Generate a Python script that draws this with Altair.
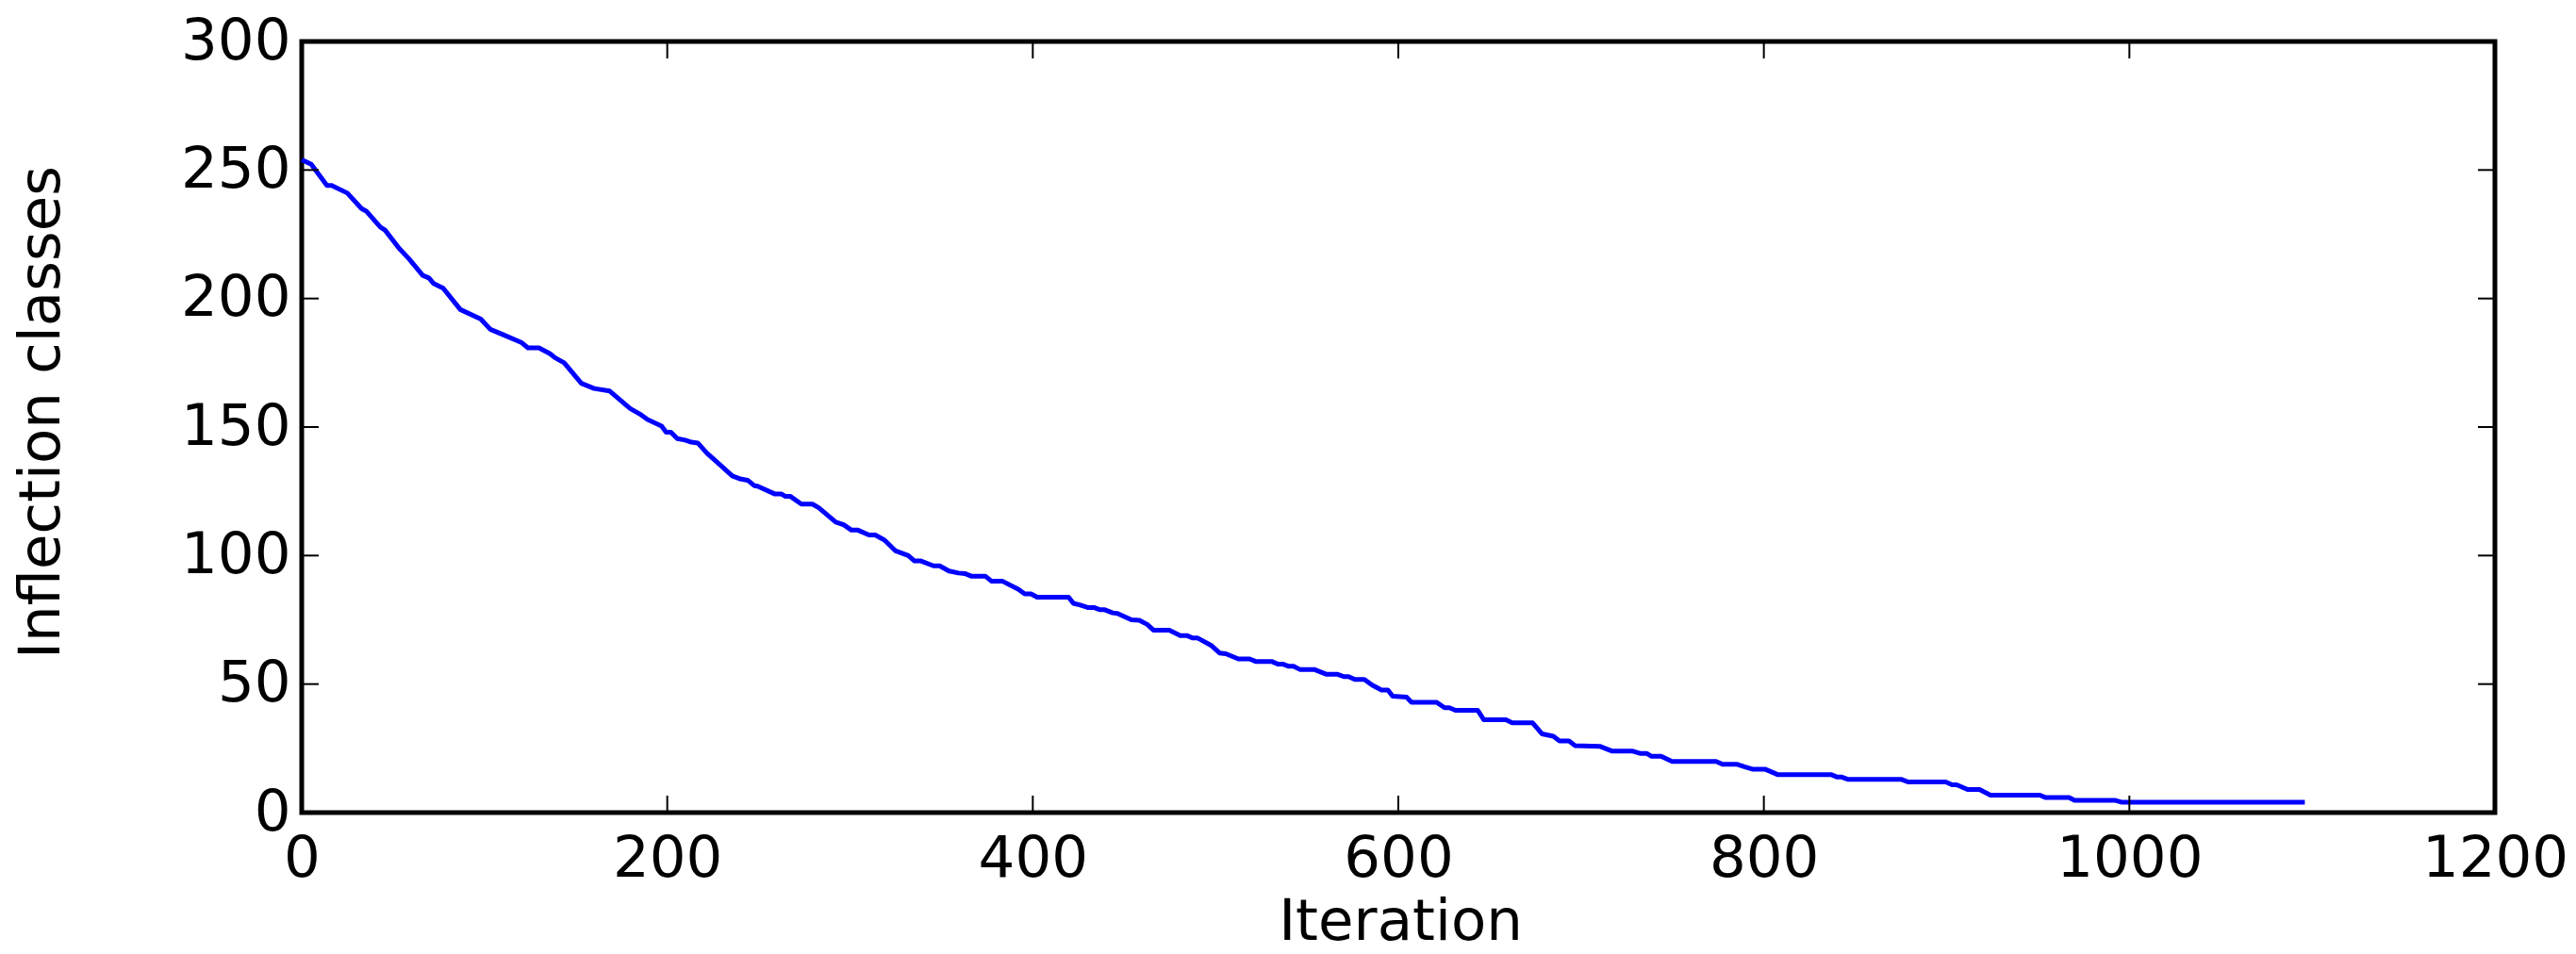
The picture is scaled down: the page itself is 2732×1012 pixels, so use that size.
import altair as alt
import pandas as pd

# ---- data ----
iterations = [0, 5.2, 13.8, 16.4, 25, 32.7, 35.3, 43, 45.6, 53.3, 58.5, 66.2, 69.6, 72.2, 77.4,
              86.8, 98, 103.2, 110, 120.4, 123.8, 129.8, 135.9, 138.5, 143.6, 153, 160, 168.5,
              179.7, 184.9, 189.2, 196.9, 199.4, 202, 205.5, 209.8, 213.2, 216.7, 221.8, 235.6,
              240, 244, 247.6, 249.4, 258.7, 262.3, 264.7, 267.4, 273.4, 279.4, 282.9, 292.2,
              296.5, 300.8, 304.3, 310.4, 313.8, 318.9, 325, 331.9, 335.3, 338.8, 345.7, 349,
              354.2, 359.4, 362.8, 366.3, 374, 377.5, 383.5, 392, 395.6, 399, 402.4, 419.6,
              422.2, 425.6, 430, 433.4, 436.8, 439.4, 443.7, 446.3, 454, 458.3, 462.6, 466,
              474.7, 480.7, 484.2, 487.6, 490.2, 497.9, 502.2, 505.6, 512.5, 518.6, 522, 530.6,
              534, 536.7, 540.1, 542.7, 546.1, 553.9, 560.8, 566.8, 570.2, 572.8, 576.2, 581.4,
              585.7, 590.8, 594.3, 596.9, 604.6, 607.2, 621, 625.3, 627.9, 631.3, 643.4, 646.8,
              658.9, 662.3, 673.5, 678.7, 684.8, 688.2, 693.4, 696.8, 710.2, 717.1, 728.3, 732.6,
              736, 738.6, 743.8, 749.8, 773.9, 777.4, 785.1, 789.4, 793.7, 800.6, 807.5, 836.7,
              840.2, 842.7, 846.2, 875.4, 878.9, 899.5, 903, 905.5, 911.5, 918, 924, 951, 954,
              967, 970, 992, 996, 1096]
classes = [254, 252.2, 244, 244, 241, 235, 234, 227.8, 226.6, 219.5, 215.6, 209, 208, 205.8, 204,
           195.7, 192, 188, 186, 182.8, 180.8, 180.8, 178.5, 177, 175, 167, 165, 164,
           157.2, 155.1, 152.9, 150.4, 148, 148, 145.5, 144.9, 144.1, 143.8, 139.8, 131,
           129.8, 129.3, 127.2, 127, 124, 124, 123, 123, 120, 120, 118.6, 113,
           112, 109.9, 109.9, 108, 108, 106, 101.8, 100, 97.9, 97.9, 96, 96,
           94, 93.2, 93, 92, 92, 90, 90, 86.9, 85.1, 85.1, 83.8, 83.8,
           81.4, 80.8, 79.8, 79.8, 78.9, 78.9, 77.7, 77.5, 75, 74.8, 73.2, 71,
           71, 68.9, 68.9, 67.9, 67.9, 64.9, 62.1, 61.8, 59.8, 59.8, 58.8, 58.8,
           57.8, 57.8, 56.9, 56.9, 55.7, 55.7, 53.8, 53.8, 52.9, 52.9, 51.8, 51.8,
           49.6, 47.7, 47.7, 45.3, 44.9, 42.9, 42.9, 40.8, 40.8, 39.8, 39.8, 36.1,
           36.1, 34.9, 34.9, 30.6, 29.7, 27.9, 27.9, 26.0, 25.8, 23.9, 23.9, 23,
           23, 21.9, 21.9, 19.9, 19.9, 18.8, 18.8, 17.8, 16.9, 16.9, 14.8, 14.8,
           13.8, 13.8, 12.9, 12.9, 11.9, 11.9, 10.8, 10.8, 9.0, 9.0, 6.8, 6.8, 5.9,
           5.9, 4.8, 4.8, 4.0, 4.0]
x_ticks = [0, 200, 400, 600, 800, 1000, 1200]
y_ticks = [0, 50, 100, 150, 200, 250, 300]

W, H = 2326, 818
TICK = 18
FONT = "DejaVu Sans"
FS = 61

df = pd.DataFrame({"x": iterations, "y": classes})
xt = pd.DataFrame({"x": x_ticks})
yt = pd.DataFrame({"y": y_ticks})

xscale = alt.Scale(domain=[0, 1200], nice=False, zero=False)
yscale = alt.Scale(domain=[0, 300], nice=False, zero=False)

x_axis = alt.Axis(values=x_ticks, format="d", title="Iteration", ticks=False, tickSize=0,
                  domain=False, grid=False, labelPadding=19, labelFlush=False,
                  labelOverlap=False, titleY=134, titleX=W / 2 + 2,
                  titleBaseline="alphabetic", titleAlign="center")
y_axis = alt.Axis(values=y_ticks, format="d", title="Inflection classes", ticks=False, tickSize=0,
                  domain=False, grid=False, labelPadding=12, labelFlush=False,
                  labelOverlap=False, titleX=-258, titleY=393, titleAngle=270,
                  titleBaseline="alphabetic", titleAlign="center")

X = alt.X("x:Q", scale=xscale, axis=x_axis)
Y = alt.Y("y:Q", scale=yscale, axis=y_axis)

line = alt.Chart(df).mark_line(color="#0000ff", strokeWidth=5, strokeJoin="round").encode(
    x=X, y=Y)

rule_style = dict(color="black", strokeWidth=2)
bottom = alt.Chart(xt).mark_rule(**rule_style).encode(
    x=X, y=alt.value(H), y2=alt.value(H - TICK))
top = alt.Chart(xt).mark_rule(**rule_style).encode(
    x=X, y=alt.value(0), y2=alt.value(TICK))
left = alt.Chart(yt).mark_rule(**rule_style).encode(
    y=Y, x=alt.value(0), x2=alt.value(TICK))
right = alt.Chart(yt).mark_rule(**rule_style).encode(
    y=Y, x=alt.value(W), x2=alt.value(W - TICK))

chart = alt.layer(line, bottom, top, left, right).properties(
    width=W, height=H,
    autosize=alt.AutoSizeParams(type="none"),
    padding={"left": 320, "top": 44, "right": 86, "bottom": 150},
    background="white",
).configure_view(
    stroke="black", strokeWidth=5, fill="white"
).configure_axis(
    labelFont=FONT, labelFontSize=FS, labelColor="black",
    titleFont=FONT, titleFontSize=FS, titleColor="black", titleFontWeight="normal",
)

chart.save("out.html", embed_options={"renderer": "svg", "actions": False})
